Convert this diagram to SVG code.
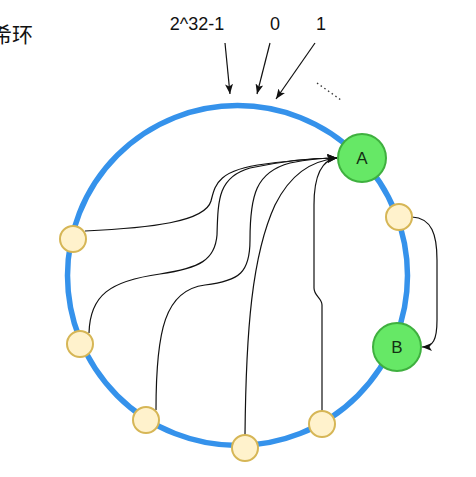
<svg xmlns="http://www.w3.org/2000/svg" width="476" height="477" viewBox="0 0 476 477">
<style>
.lbl{font-family:"Liberation Sans",Arial,sans-serif;font-size:18px;fill:#111;text-anchor:middle}
.cjk{font-family:"Noto Sans CJK SC",sans-serif;font-size:21px;fill:#111}
.hash{fill:#FFF2CC;stroke:#D6B656;stroke-width:2}
.srv{fill:#66E866;stroke:#3FB03F;stroke-width:2}
.srvt{font-family:"Liberation Sans",Arial,sans-serif;font-size:17px;fill:#143014;text-anchor:middle}
.edge{fill:none;stroke:#111;stroke-width:1.2}
</style>
<defs>
<marker id="ah" viewBox="0 0 10 8" refX="10" refY="4" markerWidth="10" markerHeight="8" markerUnits="userSpaceOnUse" orient="auto">
<path d="M0,0 L10,4 L0,8 L2.5,4 Z" fill="#111"/>
</marker>
</defs>
<rect width="476" height="477" fill="#fff"/>
<text class="cjk" x="-9" y="42">希环</text>
<circle id="ring" cx="237.5" cy="275.5" r="170" fill="none" stroke="#3592EB" stroke-width="5.5"/>
<g id="labels">
<text class="lbl" x="197" y="30">2^32-1</text>
<text class="lbl" x="275" y="30">0</text>
<text class="lbl" x="321" y="30">1</text>
</g>
<g id="connectors">
<path class="edge" d="M225,43 L230,94" marker-end="url(#ah)"/>
<path class="edge" d="M270,43 L257,94" marker-end="url(#ah)"/>
<path class="edge" d="M315,43 L276,99" marker-end="url(#ah)"/>
<path d="M317,83 L341,100" fill="none" stroke="#333" stroke-width="1.3" stroke-dasharray="1.5,3"/>
<path class="edge" d="M85,231 C150,228 205,222 211,201 C215,186 216,170 265,164 C295,160 318,158 337,158" marker-end="url(#ah)"/>
<path class="edge" d="M89,333 C90,295 110,281 160,274 C200,268 215,260 217,235 C218,200 218,177 250,168 C288,160 318,158 337,158" marker-end="url(#ah)"/>
<path class="edge" d="M156,410 C156,330 165,290 205,285 C240,281 250,272 250,240 C250,195 256,172 290,163 C310,159 325,158 337,158" marker-end="url(#ah)"/>
<path class="edge" d="M245,435 C246,330 252,255 275,205 C290,175 310,161 337,158" marker-end="url(#ah)"/>
<path class="edge" d="M322,411 L322,305 C322,298 314,296 314,288 L314,205 C314,178 320,160 337,158" marker-end="url(#ah)"/>
<path class="edge" d="M412,217 C432,218 437,235 437,260 L437,320 C437,340 433,347 422,347" marker-end="url(#ah)"/>
</g>
<g id="nodeA"><circle class="srv" cx="362" cy="158" r="24"/><text class="srvt" x="362" y="164">A</text></g>
<g id="nodeB"><circle class="srv" cx="397" cy="347" r="24"/><text class="srvt" x="397" y="353">B</text></g>
<g id="h1"><circle class="hash" cx="399" cy="217" r="13"/></g>
<g id="h2"><circle class="hash" cx="73" cy="239" r="13"/></g>
<g id="h3"><circle class="hash" cx="80" cy="344" r="13"/></g>
<g id="h4"><circle class="hash" cx="146" cy="420" r="13"/></g>
<g id="h5"><circle class="hash" cx="245" cy="448" r="13"/></g>
<g id="h6"><circle class="hash" cx="322" cy="424" r="13"/></g>
</svg>
